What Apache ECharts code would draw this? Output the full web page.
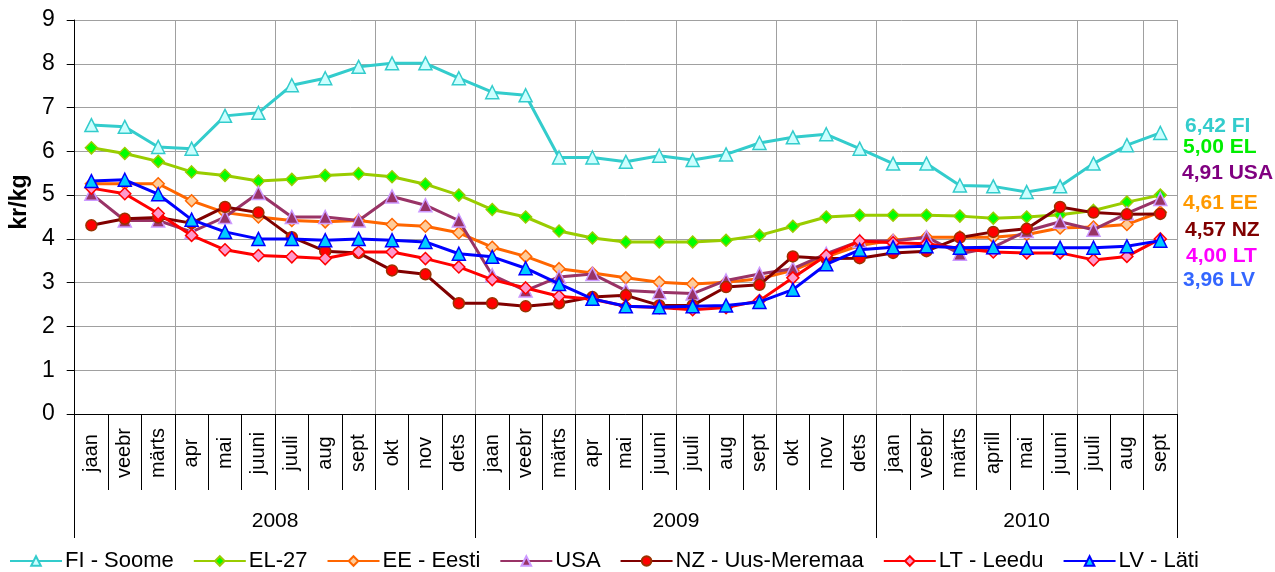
<!DOCTYPE html>
<html>
<head>
<meta charset="utf-8">
<script src="https://cdn.jsdelivr.net/npm/echarts@6/dist/echarts.min.js"></script>
<style>
html,body{margin:0;padding:0;background:#fff;}
#chart{width:1275px;height:572px;}
</style>
</head>
<body>
<div id="chart"></div>
<script>
// ---- data ----
const months2008 = ['jaan','veebr','märts','apr','mai','juuni','juuli','aug','sept','okt','nov','dets'];
const months2009 = ['jaan','veebr','märts','apr','mai','juuni','juuli','aug','sept','okt','nov','dets'];
const months2010 = ['jaan','veebr','märts','aprill','mai','juuni','juuli','aug','sept'];
const years = ['2008','2009','2010'];
const yTicks = [0,1,2,3,4,5,6,7,8,9];

const seriesNames = ['FI - Soome','EL-27','EE - Eesti','USA','NZ - Uus-Meremaa','LT - Leedu','LV - Läti'];

const fi  = [6.60,6.56,6.10,6.06,6.81,6.88,7.51,7.67,7.93,8.01,8.01,7.67, 7.35,7.28,5.86,5.86,5.76,5.90,5.80,5.93,6.19,6.32,6.39,6.06, 5.72,5.72,5.22,5.20,5.07,5.20,5.72,6.14,6.42];
const el  = [6.08,5.95,5.77,5.53,5.45,5.32,5.36,5.45,5.49,5.42,5.25,5.00, 4.67,4.50,4.18,4.02,3.93,3.93,3.93,3.97,4.08,4.29,4.50,4.54, 4.54,4.54,4.52,4.47,4.50,4.55,4.65,4.84,5.00];
const ee  = [5.26,5.26,5.26,4.87,4.60,4.50,4.42,4.39,4.42,4.33,4.29,4.14, 3.81,3.60,3.32,3.22,3.11,3.01,2.97,3.01,3.09,3.28,3.59,3.85, 3.97,4.04,4.04,4.04,4.10,4.25,4.27,4.33,4.61];
const usa = [5.03,4.42,4.42,4.16,4.50,5.05,4.50,4.50,4.42,4.97,4.77,4.42, 3.17,2.82,3.13,3.20,2.82,2.78,2.75,3.05,3.20,3.32,3.66,3.95, 3.95,4.04,3.66,3.81,4.18,4.39,4.21,4.58,4.91];
const nz  = [4.31,4.46,4.49,4.36,4.73,4.60,4.04,3.72,3.68,3.28,3.19,2.53, 2.53,2.46,2.53,2.67,2.71,2.48,2.48,2.90,2.95,3.60,3.55,3.56, 3.68,3.72,4.03,4.16,4.23,4.73,4.60,4.56,4.57];
const lt  = [5.16,5.03,4.58,4.08,3.75,3.62,3.59,3.55,3.70,3.70,3.55,3.36, 3.07,2.88,2.69,2.62,2.46,2.43,2.38,2.43,2.59,3.11,3.62,3.95, 3.91,3.89,3.78,3.70,3.68,3.68,3.52,3.60,4.00];
const lv  = [5.32,5.35,5.02,4.44,4.16,4.00,4.00,3.97,4.00,3.97,3.93,3.66, 3.59,3.33,2.97,2.63,2.46,2.44,2.46,2.48,2.56,2.84,3.42,3.75, 3.81,3.83,3.80,3.81,3.80,3.80,3.80,3.83,3.96];

// ---- build ----
const categories = months2008.concat(months2009, months2010);
const yearLengths = [months2008.length, months2009.length, months2010.length];
const yearBounds = [0]; yearLengths.forEach(l => yearBounds.push(yearBounds[yearBounds.length-1] + l));
const yearCenters = yearLengths.map((l,i) => yearBounds[i] + l/2);

const FONT = "'Liberation Sans', Arial, sans-serif";
const styles = [
  {line:'#33CCCC', sym:'triangle', size:13, fill:'#CCFFFF', border:'#33CCCC'},
  {line:'#99CC00', sym:'diamond',  size:12, fill:'#00FF00', border:'#99CC00'},
  {line:'#FF6600', sym:'diamond',  size:12, fill:'#FFCC99', border:'#FF6600'},
  {line:'#993366', sym:'triangle', size:13, fill:'#993366', border:'#CC99FF'},
  {line:'#800000', sym:'circle',   size:11, fill:'#FF0000', border:'#993300'},
  {line:'#FF0000', sym:'diamond',  size:12, fill:'#FF99CC', border:'#FF0000'},
  {line:'#0000FF', sym:'triangle', size:13, fill:'#00CCFF', border:'#0000FF'}
];
const dataSets = [fi, el, ee, usa, nz, lt, lv];

const series = dataSets.map((d, i) => ({
  name: seriesNames[i],
  type: 'line',
  data: d,
  symbol: styles[i].sym,
  symbolSize: styles[i].size,
  showAllSymbol: true,
  lineStyle: {color: styles[i].line, width: 3},
  itemStyle: {color: styles[i].fill, borderColor: styles[i].border, borderWidth: 1.5},
  emphasis: {disabled: true},
  z: 2 + i
}));

// right-hand end labels (order as in reference)
const tagOrder = [
  {d: fi,  tag: 'FI',  color: '#33CCCC', y: 127, x: 1185},
  {d: el,  tag: 'EL',  color: '#00EE00', y: 148, x: 1183},
  {d: usa, tag: 'USA', color: '#800080', y: 174, x: 1182},
  {d: ee,  tag: 'EE',  color: '#FF9900', y: 204, x: 1183},
  {d: nz,  tag: 'NZ',  color: '#800000', y: 231, x: 1185},
  {d: lt,  tag: 'LT',  color: '#FF00FF', y: 257, x: 1186},
  {d: lv,  tag: 'LV',  color: '#3366FF', y: 281, x: 1183}
];
const graphics = tagOrder.map(t => ({
  type: 'text',
  left: t.x, top: t.y - 11,
  style: {
    text: t.d[t.d.length-1].toFixed(2).replace('.', ',') + ' ' + t.tag,
    fill: t.color, font: "bold 21px 'Liberation Sans', Arial, sans-serif"
  }
}));

const chart = echarts.init(document.getElementById('chart'), null, {renderer: 'canvas'});
chart.setOption({
  animation: false,
  backgroundColor: '#fff',
  textStyle: {fontFamily: FONT},
  grid: {left: 74, right: 98, top: 20, bottom: 158},
  legend: {
    data: seriesNames,
    left: 4, top: 545,
    itemWidth: 52, itemHeight: 12, itemGap: 19,
    textStyle: {fontSize: 22, color: '#000', fontFamily: FONT, padding: [0,0,0,-2]}
  },
  xAxis: [
    {
      type: 'category',
      data: categories,
      boundaryGap: true,
      axisLine: {show: true, lineStyle: {color: '#000', width: 1}},
      axisTick: {show: true, interval: 0, length: 76, lineStyle: {color: '#000', width: 1}},
      axisLabel: {interval: 0, rotate: 90, align: 'center', margin: 39, fontSize: 20, color: '#000', fontFamily: FONT},
      splitLine: {show: true, interval: 2, lineStyle: {color: '#A0A0A0', width: 1}}
    },
    {
      type: 'value',
      min: 0, max: categories.length,
      position: 'bottom',
      axisLine: {show: false},
      splitLine: {show: false},
      axisTick: {show: true, customValues: yearBounds, length: 124, lineStyle: {color: '#000', width: 1}},
      axisLabel: {
        customValues: yearCenters, margin: 97, fontSize: 21, color: '#000', fontFamily: FONT,
        formatter: v => { const k = yearCenters.indexOf(v); return k >= 0 ? years[k] : ''; }
      }
    }
  ],
  yAxis: {
    type: 'value',
    min: yTicks[0], max: yTicks[yTicks.length-1], interval: 1,
    name: 'kr/kg',
    nameLocation: 'middle',
    nameGap: 40,
    nameRotate: 90,
    nameTextStyle: {fontSize: 23, fontWeight: 'bold', color: '#000', fontFamily: FONT, padding: [0,0,0,30]},
    axisLine: {show: true, lineStyle: {color: '#000', width: 1}},
    axisTick: {show: true, length: 8, lineStyle: {color: '#000'}},
    axisLabel: {fontSize: 23, color: '#000', margin: 20, fontFamily: FONT},
    splitLine: {show: true, lineStyle: {color: '#A0A0A0', width: 1}}
  },
  graphic: graphics,
  series: series
});
</script>
</body>
</html>
